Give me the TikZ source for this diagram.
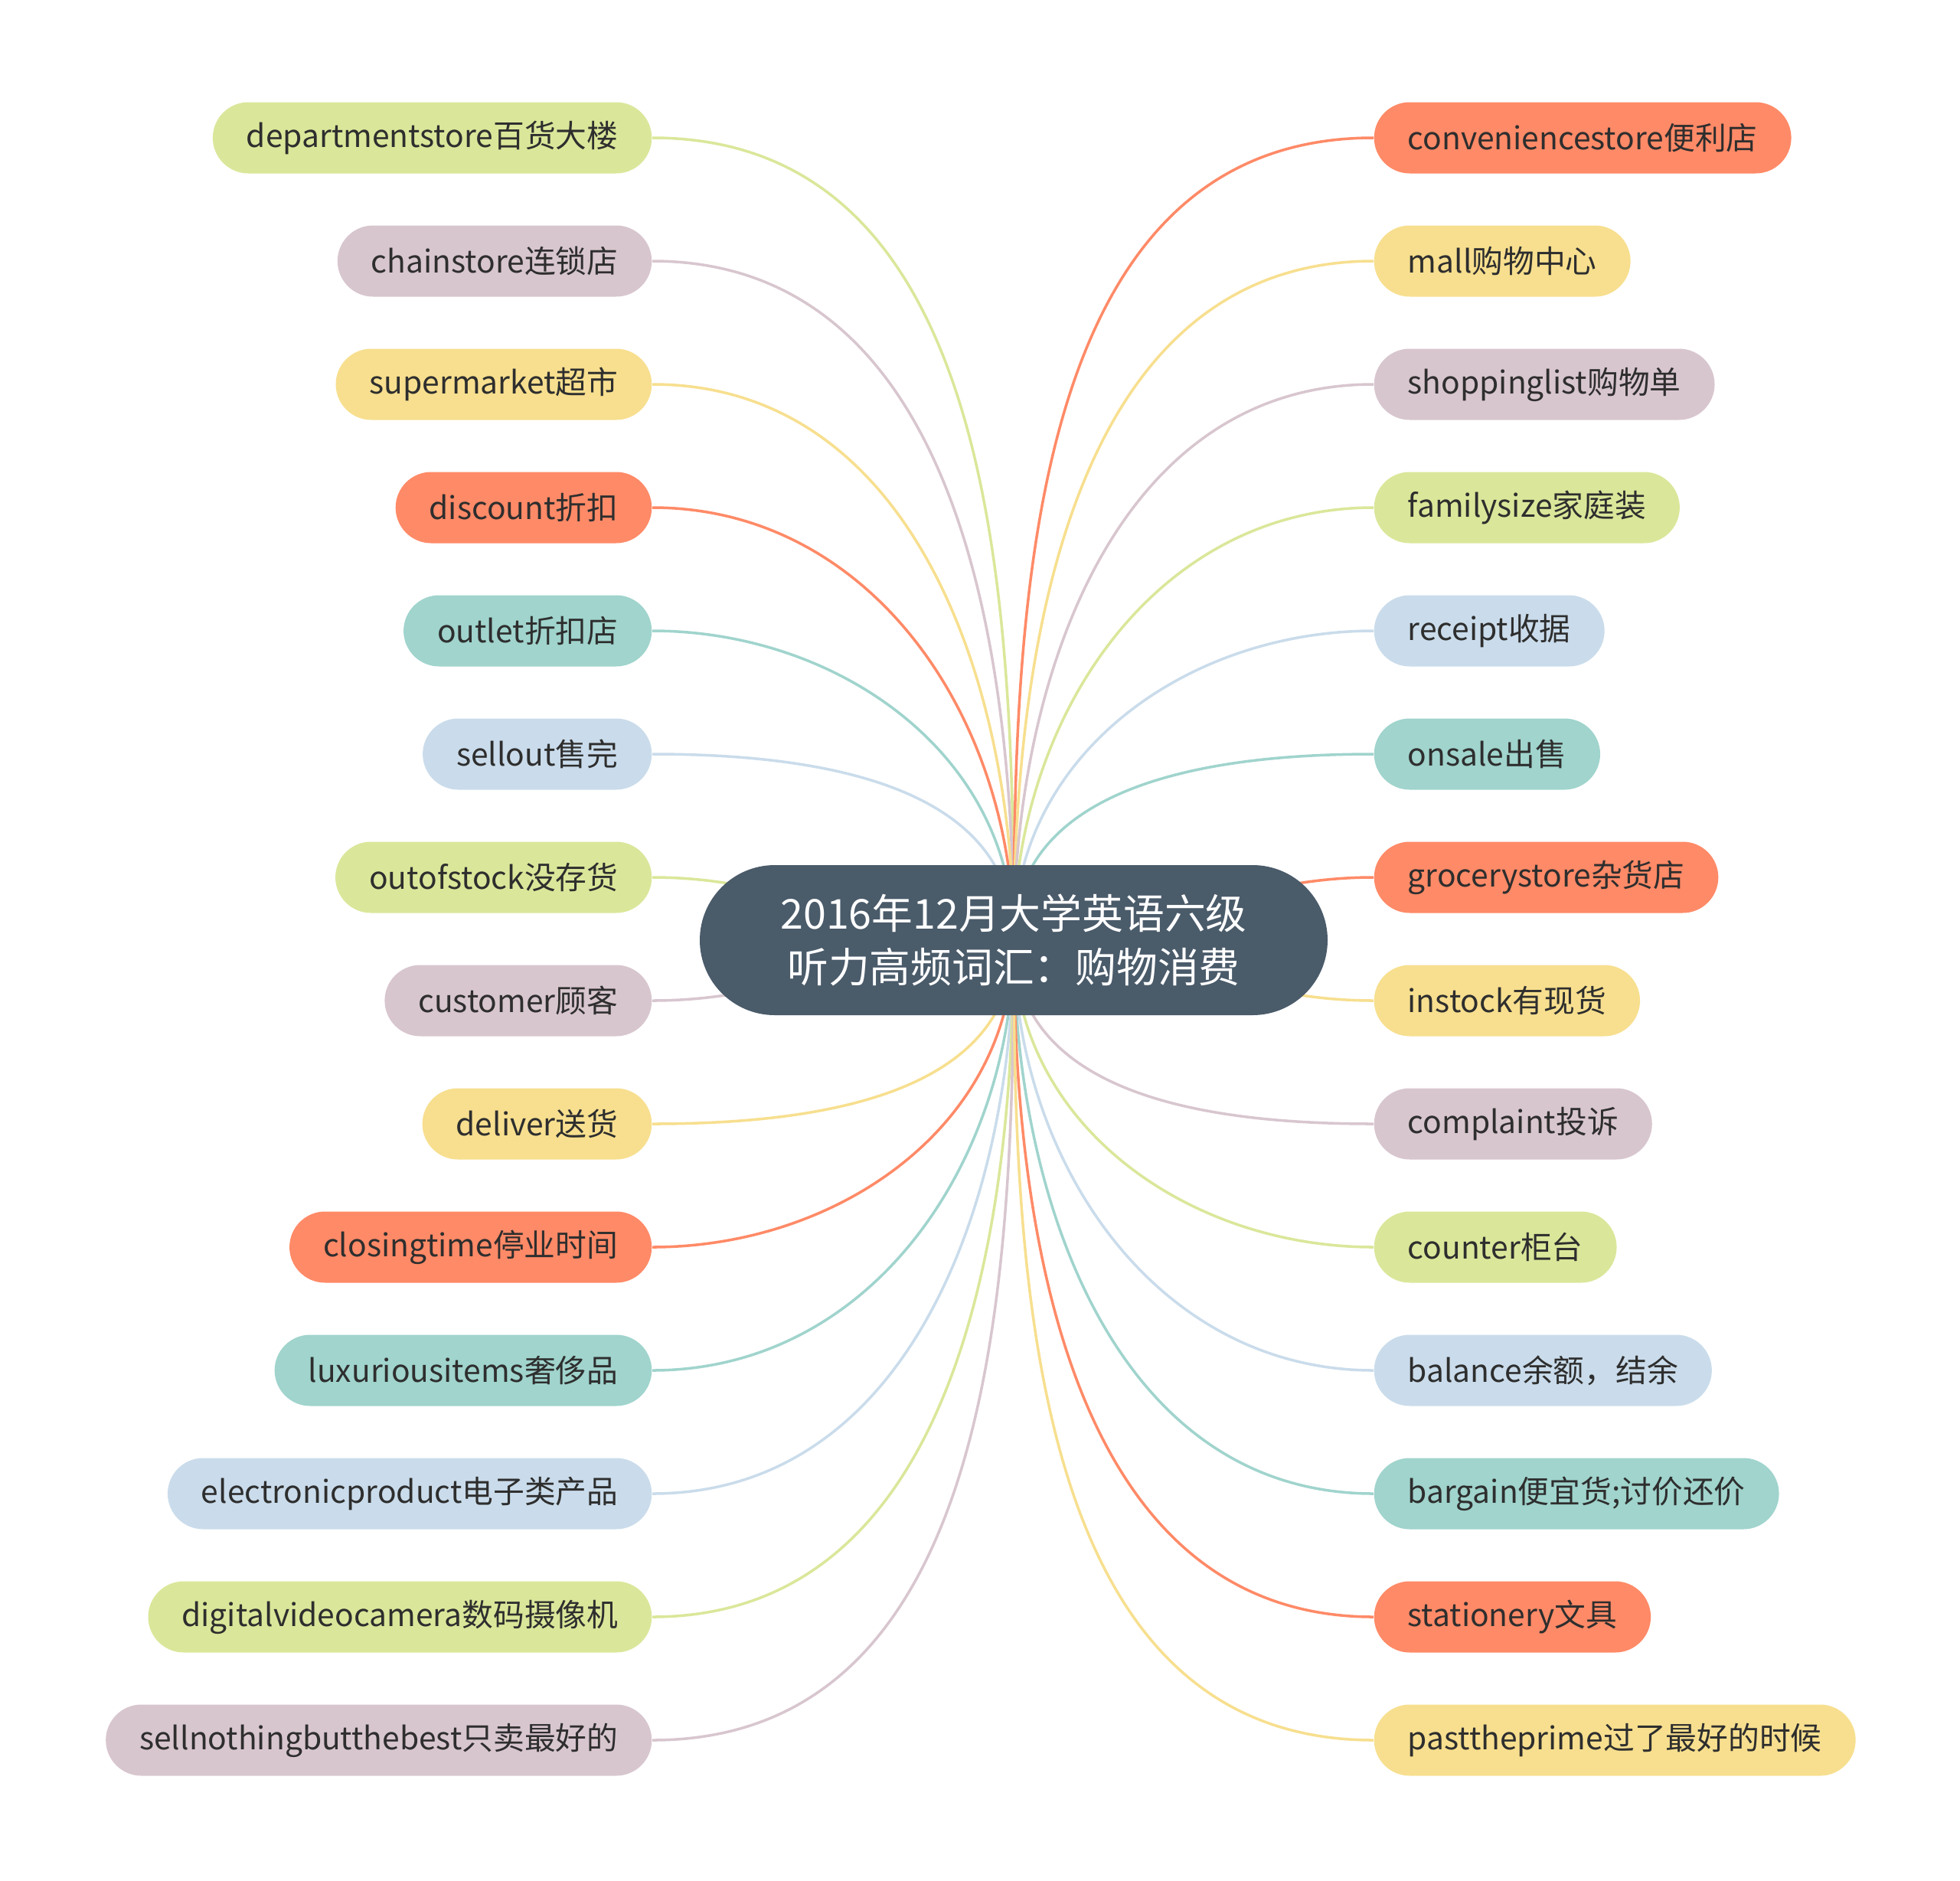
\documentclass[tikz,border=0pt]{standalone}
\usepackage{fontspec}
\setmainfont{Noto Sans CJK SC}
\usepackage{xcolor}
\usetikzlibrary{positioning,backgrounds}

\definecolor{cgreen}{HTML}{DAE79A}
\definecolor{cmauve}{HTML}{D8C6CF}
\definecolor{cyellow}{HTML}{F7DF8F}
\definecolor{corange}{HTML}{FF8A67}
\definecolor{cteal}{HTML}{A0D4CD}
\definecolor{cblue}{HTML}{CADCEB}
\definecolor{rootgray}{HTML}{4A5B6A}
\definecolor{leaftext}{HTML}{2E2E2E}

\begin{document}
\begin{tikzpicture}
    % Styles
    \tikzstyle{root} = [rectangle, fill=rootgray, text=white, minimum width=8.2cm, minimum height=1.96cm, rounded corners=0.98cm, align=center, font=\fontsize{15.3}{19.8}\selectfont]
    \tikzstyle{leaf} = [rectangle, minimum height=0.93cm, rounded corners=0.465cm, inner xsep=0.44cm, text=leaftext, font=\fontsize{11.6}{13.8}\selectfont]
    \tikzstyle{link} = [draw, line width=1pt]

    \useasboundingbox (0,0) rectangle (25.6,-24.56);

    % Nodes
    \node [root] (root) at (13.24,-12.28) {2016年12月大学英语六级\\听力高频词汇：购物消费};

    \node [leaf, fill=cgreen, anchor=east] (l1) at (8.52,-1.80) {departmentstore百货大楼};
    \node [leaf, fill=cmauve, below=1.61cm of l1.east, anchor=east] (l2) {chainstore连锁店};
    \node [leaf, fill=cyellow, below=1.61cm of l2.east, anchor=east] (l3) {supermarket超市};
    \node [leaf, fill=corange, below=1.61cm of l3.east, anchor=east] (l4) {discount折扣};
    \node [leaf, fill=cteal, below=1.61cm of l4.east, anchor=east] (l5) {outlet折扣店};
    \node [leaf, fill=cblue, below=1.61cm of l5.east, anchor=east] (l6) {sellout售完};
    \node [leaf, fill=cgreen, below=1.61cm of l6.east, anchor=east] (l7) {outofstock没存货};
    \node [leaf, fill=cmauve, below=1.61cm of l7.east, anchor=east] (l8) {customer顾客};
    \node [leaf, fill=cyellow, below=1.61cm of l8.east, anchor=east] (l9) {deliver送货};
    \node [leaf, fill=corange, below=1.61cm of l9.east, anchor=east] (l10) {closingtime停业时间};
    \node [leaf, fill=cteal, below=1.61cm of l10.east, anchor=east] (l11) {luxuriousitems奢侈品};
    \node [leaf, fill=cblue, below=1.61cm of l11.east, anchor=east] (l12) {electronicproduct电子类产品};
    \node [leaf, fill=cgreen, below=1.61cm of l12.east, anchor=east] (l13) {digitalvideocamera数码摄像机};
    \node [leaf, fill=cmauve, below=1.61cm of l13.east, anchor=east] (l14) {sellnothingbutthebest只卖最好的};

    \node [leaf, fill=corange, anchor=west] (r1) at (17.94,-1.80) {conveniencestore便利店};
    \node [leaf, fill=cyellow, below=1.61cm of r1.west, anchor=west] (r2) {mall购物中心};
    \node [leaf, fill=cmauve, below=1.61cm of r2.west, anchor=west] (r3) {shoppinglist购物单};
    \node [leaf, fill=cgreen, below=1.61cm of r3.west, anchor=west] (r4) {familysize家庭装};
    \node [leaf, fill=cblue, below=1.61cm of r4.west, anchor=west] (r5) {receipt收据};
    \node [leaf, fill=cteal, below=1.61cm of r5.west, anchor=west] (r6) {onsale出售};
    \node [leaf, fill=corange, below=1.61cm of r6.west, anchor=west] (r7) {grocerystore杂货店};
    \node [leaf, fill=cyellow, below=1.61cm of r7.west, anchor=west] (r8) {instock有现货};
    \node [leaf, fill=cmauve, below=1.61cm of r8.west, anchor=west] (r9) {complaint投诉};
    \node [leaf, fill=cgreen, below=1.61cm of r9.west, anchor=west] (r10) {counter柜台};
    \node [leaf, fill=cblue, below=1.61cm of r10.west, anchor=west] (r11) {balance余额，结余};
    \node [leaf, fill=cteal, below=1.61cm of r11.west, anchor=west] (r12) {bargain便宜货;讨价还价};
    \node [leaf, fill=corange, below=1.61cm of r12.west, anchor=west] (r13) {stationery文具};
    \node [leaf, fill=cyellow, below=1.61cm of r13.west, anchor=west] (r14) {pasttheprime过了最好的时候};

    % Edges
    \begin{scope}[on background layer]
    \path [link, cgreen] (l1.east) to[out=0, in=90] (root.center);
    \path [link, cmauve] (l2.east) to[out=0, in=90] (root.center);
    \path [link, cyellow] (l3.east) to[out=0, in=90] (root.center);
    \path [link, corange] (l4.east) to[out=0, in=90] (root.center);
    \path [link, cteal] (l5.east) to[out=0, in=90] (root.center);
    \path [link, cblue] (l6.east) to[out=0, in=90] (root.center);
    \path [link, cgreen] (l7.east) to[out=0, in=180] (root.center);
    \path [link, cmauve] (l8.east) to[out=0, in=180] (root.center);
    \path [link, cyellow] (l9.east) to[out=0, in=-90] (root.center);
    \path [link, corange] (l10.east) to[out=0, in=-90] (root.center);
    \path [link, cteal] (l11.east) to[out=0, in=-90] (root.center);
    \path [link, cblue] (l12.east) to[out=0, in=-90] (root.center);
    \path [link, cgreen] (l13.east) to[out=0, in=-90] (root.center);
    \path [link, cmauve] (l14.east) to[out=0, in=-90] (root.center);

    \path [link, corange] (r1.west) to[out=180, in=90] (root.center);
    \path [link, cyellow] (r2.west) to[out=180, in=90] (root.center);
    \path [link, cmauve] (r3.west) to[out=180, in=90] (root.center);
    \path [link, cgreen] (r4.west) to[out=180, in=90] (root.center);
    \path [link, cblue] (r5.west) to[out=180, in=90] (root.center);
    \path [link, cteal] (r6.west) to[out=180, in=90] (root.center);
    \path [link, corange] (r7.west) to[out=180, in=0] (root.center);
    \path [link, cyellow] (r8.west) to[out=180, in=0] (root.center);
    \path [link, cmauve] (r9.west) to[out=180, in=-90] (root.center);
    \path [link, cgreen] (r10.west) to[out=180, in=-90] (root.center);
    \path [link, cblue] (r11.west) to[out=180, in=-90] (root.center);
    \path [link, cteal] (r12.west) to[out=180, in=-90] (root.center);
    \path [link, corange] (r13.west) to[out=180, in=-90] (root.center);
    \path [link, cyellow] (r14.west) to[out=180, in=-90] (root.center);
    \end{scope}
\end{tikzpicture}
\end{document}
